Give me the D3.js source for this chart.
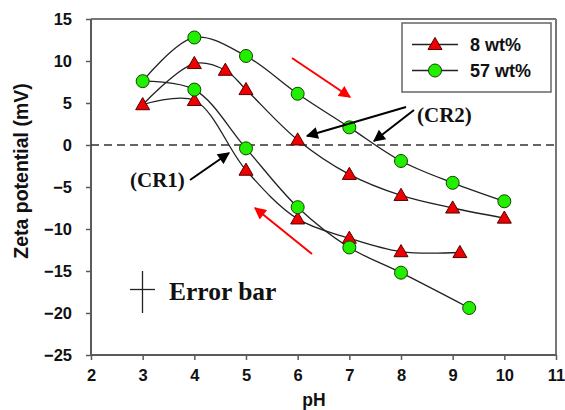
<!DOCTYPE html>
<html>
<head>
<meta charset="utf-8">
<script src="https://cdn.jsdelivr.net/npm/d3@7/dist/d3.min.js"></script>
<style>
  body { margin: 0; background: #fff; }
  svg { display: block; }
</style>
</head>
<body>
<svg id="chart" width="565" height="410"></svg>
<script>
// ---- Data ----
const seriesNames = ["8 wt%", "57 wt%"];
// 8 wt% : increasing-pH branch (CR2)
const pH8Up = [3, 4, 4.6, 5, 6, 7, 8, 9, 10];
const zeta8Up = [4.8, 9.7, 8.9, 6.6, 0.6, -3.5, -6.0, -7.5, -8.7];
// 8 wt% : decreasing-pH branch (CR1)
const pH8Down = [3, 4, 5, 6, 7, 8, 9.14];
const zeta8Down = [4.8, 5.3, -3.0, -8.8, -11.1, -12.7, -12.8];
// 57 wt% : increasing-pH branch (CR2)
const pH57Up = [3, 4, 5, 6, 7, 8, 9, 10];
const zeta57Up = [7.6, 12.8, 10.6, 6.1, 2.1, -1.9, -4.5, -6.7];
// 57 wt% : decreasing-pH branch (CR1)
const pH57Down = [3, 4, 5, 6, 7, 8, 9.32];
const zeta57Down = [7.6, 6.6, -0.4, -7.4, -12.2, -15.2, -19.4];

const xTicks = [2, 3, 4, 5, 6, 7, 8, 9, 10, 11];
const yTicks = [-25, -20, -15, -10, -5, 0, 5, 10, 15];

// ---- Setup ----
const svg = d3.select("#chart");
const x = d3.scaleLinear().domain([2, 11]).range([91, 556]);
const y = d3.scaleLinear().domain([-25, 15]).range([355, 19]);

const sans = "'Liberation Sans', Arial, sans-serif";
const serif = "'Liberation Serif', 'Times New Roman', serif";
const axisColor = "#5a5a5a";

// defs: arrowheads
const defs = svg.append("defs");
function marker(id, color) {
  defs.append("marker")
    .attr("id", id)
    .attr("viewBox", "0 0 10 10")
    .attr("refX", 9).attr("refY", 5)
    .attr("markerWidth", 7).attr("markerHeight", 6)
    .attr("markerUnits", "strokeWidth")
    .attr("orient", "auto")
    .append("path").attr("d", "M0,0 L10,5 L0,10 Z").attr("fill", color);
}
marker("arrBlack", "#000");
marker("arrRed", "#f00");

// frame top & right
svg.append("line").attr("x1", x(2)).attr("x2", x(11)).attr("y1", y(15)).attr("y2", y(15))
  .attr("stroke", "#777").attr("stroke-width", 2);
svg.append("line").attr("x1", x(11)).attr("x2", x(11)).attr("y1", y(15)).attr("y2", y(-25))
  .attr("stroke", "#777").attr("stroke-width", 2);

// axes
const xAxis = d3.axisBottom(x).tickValues(xTicks).tickSize(5).tickPadding(9).tickFormat(d3.format("d"));
const yAxis = d3.axisLeft(y).tickValues(yTicks).tickSize(5).tickPadding(14).tickFormat(d3.format("d"));

const gx = svg.append("g").attr("transform", `translate(0,${y(-25)})`).call(xAxis);
const gy = svg.append("g").attr("transform", `translate(${x(2)},0)`).call(yAxis);
[gx, gy].forEach(g => {
  g.select(".domain").attr("stroke", axisColor).attr("stroke-width", 2);
  g.selectAll(".tick line").attr("stroke", axisColor).attr("stroke-width", 1.5);
  g.selectAll(".tick text").attr("fill", "#111").attr("font-family", sans)
    .attr("font-weight", "bold").attr("font-size", 16.5);
});
gx.select(".domain").attr("d", `M${x(2)},0H${x(11)}`);
gy.select(".domain").attr("d", `M0,${y(15)}V${y(-25)}`);

// axis titles
svg.append("text").attr("x", 314).attr("y", 406).attr("text-anchor", "middle")
  .attr("font-family", sans).attr("font-weight", "bold").attr("font-size", 17.5).attr("fill", "#111")
  .text("pH");
svg.append("text").attr("transform", `translate(28,171) rotate(-90)`).attr("text-anchor", "middle")
  .attr("font-family", sans).attr("font-weight", "bold").attr("font-size", 19.5).attr("fill", "#111")
  .text("Zeta potential (mV)");

// zero dashed line
svg.append("line").attr("x1", x(2)).attr("x2", x(11)).attr("y1", y(0)).attr("y2", y(0))
  .attr("stroke", "#333").attr("stroke-width", 1.3).attr("stroke-dasharray", "8,5");

// curves
const line = d3.line().x(d => x(d[0])).y(d => y(d[1])).curve(d3.curveCatmullRom.alpha(0.5));
const zip = (a, b) => a.map((v, i) => [v, b[i]]);
const s8Up = zip(pH8Up, zeta8Up), s8Down = zip(pH8Down, zeta8Down);
const s57Up = zip(pH57Up, zeta57Up), s57Down = zip(pH57Down, zeta57Down);
[s8Up, s8Down, s57Up, s57Down].forEach(s => {
  svg.append("path").attr("d", line(s)).attr("fill", "none").attr("stroke", "#222").attr("stroke-width", 1.3);
});

// markers
const triPath = d3.symbol().type(d3.symbolTriangle).size(85);
function drawTri(g, px, py) {
  g.append("path").attr("d", triPath()).attr("transform", `translate(${px},${py + 1})`)
    .attr("fill", "#ee0000").attr("stroke", "#550000").attr("stroke-width", 1);
}
function drawCirc(g, px, py) {
  g.append("circle").attr("cx", px).attr("cy", py).attr("r", 6.5)
    .attr("fill", "#22ee00").attr("stroke", "#114400").attr("stroke-width", 1);
}
const mg = svg.append("g");
s8Up.concat(s8Down.slice(1)).forEach(d => drawTri(mg, x(d[0]), y(d[1])));
s57Up.concat(s57Down.slice(1)).forEach(d => drawCirc(mg, x(d[0]), y(d[1])));

// legend
const lg = svg.append("g");
lg.append("rect").attr("x", 402).attr("y", 23).attr("width", 149).attr("height", 69)
  .attr("fill", "#fff").attr("stroke", "#666").attr("stroke-width", 1.5);
[44.5, 70.5].forEach((ly, i) => {
  lg.append("line").attr("x1", 412).attr("x2", 458).attr("y1", ly).attr("y2", ly)
    .attr("stroke", "#222").attr("stroke-width", 1.3);
  if (i === 0) drawTri(lg, 435, ly); else drawCirc(lg, 435, ly);
  lg.append("text").attr("x", 470).attr("y", ly + 6.5).attr("font-family", sans)
    .attr("font-weight", "bold").attr("font-size", 18).attr("fill", "#111").text(seriesNames[i]);
});

// annotations
svg.append("text").attr("x", 417).attr("y", 122).attr("font-family", serif)
  .attr("font-weight", "bold").attr("font-size", 21).attr("fill", "#111").text("(CR2)");
svg.append("text").attr("x", 130).attr("y", 187).attr("font-family", serif)
  .attr("font-weight", "bold").attr("font-size", 21).attr("fill", "#111").text("(CR1)");
svg.append("text").attr("x", 169).attr("y", 300).attr("font-family", serif)
  .attr("font-weight", "bold").attr("font-size", 25.5).attr("fill", "#111").text("Error bar");

function arrow(x1, y1, x2, y2, color, id, w) {
  svg.append("line").attr("x1", x1).attr("y1", y1).attr("x2", x2).attr("y2", y2)
    .attr("stroke", color).attr("stroke-width", w).attr("marker-end", `url(#${id})`);
}
arrow(406, 107, 307, 136, "#000", "arrBlack", 2);
arrow(414, 110, 374, 141, "#000", "arrBlack", 2);
arrow(190, 180, 229, 153, "#000", "arrBlack", 2);
arrow(292, 58, 350, 97, "#f00", "arrRed", 2);
arrow(312, 254, 255, 208, "#f00", "arrRed", 2);

// error bar glyph
svg.append("line").attr("x1", 142.5).attr("x2", 142.5).attr("y1", 271).attr("y2", 313)
  .attr("stroke", "#222").attr("stroke-width", 1.3);
svg.append("line").attr("x1", 130).attr("x2", 155).attr("y1", 289.5).attr("y2", 289.5)
  .attr("stroke", "#222").attr("stroke-width", 1.3);
</script>
</body>
</html>
